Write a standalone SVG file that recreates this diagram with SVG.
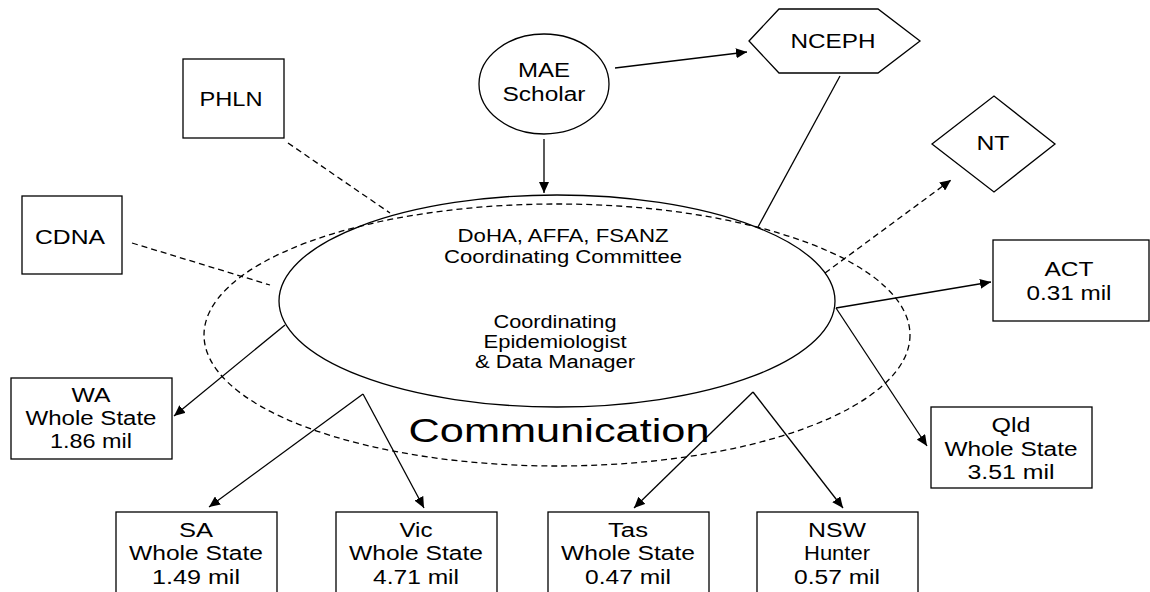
<svg xmlns="http://www.w3.org/2000/svg" width="1150" height="592" viewBox="0 0 1150 592">
<defs>
<marker id="ah" markerUnits="userSpaceOnUse" markerWidth="12" markerHeight="10" refX="11" refY="5" orient="auto">
<path d="M0,0 L11,5 L0,10 Z" fill="#000"/>
</marker>
<style>
.shape{fill:#fff;stroke:#000;stroke-width:1.3}
.ring{fill:none;stroke:#000;stroke-width:1.3;stroke-dasharray:6 4}
.ln{fill:none;stroke:#000;stroke-width:1.3}
.dl{fill:none;stroke:#000;stroke-width:1.3;stroke-dasharray:6 4}
.arr{marker-end:url(#ah)}
text{font-family:"Liberation Sans",Arial,sans-serif;fill:#000;text-anchor:middle}
.t{font-size:20px}
.c{font-size:18px}
.big{font-size:33px}
</style>
</defs>
<rect width="1150" height="592" fill="#fff"/>

<g id="communication-ring">
<ellipse class="ring" cx="557" cy="335" rx="353" ry="131"/>
<text class="big" x="559" y="442" textLength="301" lengthAdjust="spacingAndGlyphs">Communication</text>
</g>

<g id="connectors">
<path class="ln arr" d="M615,68 L747,52"/>
<path class="ln arr" d="M544,139 L544,193"/>
<path class="ln" d="M840,76 L758,227"/>
<path class="dl arr" d="M825,273 L951,180"/>
<path class="ln arr" d="M836,308 L991,282"/>
<path class="ln arr" d="M836,308 L927,446"/>
<path class="ln arr" d="M285,325 L174,416"/>
<path class="ln arr" d="M363,394 L209,507"/>
<path class="ln arr" d="M363,394 L424,508"/>
<path class="ln arr" d="M753,392 L634,508"/>
<path class="ln arr" d="M753,392 L843,508"/>
<path class="dl" d="M288,143 L390,213"/>
<path class="dl" d="M132,243 L270,285"/>
</g>

<g id="center">
<ellipse class="ln" cx="557" cy="301" rx="278" ry="106"/>
<text class="c" x="563" y="242" textLength="211" lengthAdjust="spacingAndGlyphs">DoHA, AFFA, FSANZ</text>
<text class="c" x="563" y="263" textLength="238" lengthAdjust="spacingAndGlyphs">Coordinating Committee</text>
<text class="c" x="555" y="328" textLength="123" lengthAdjust="spacingAndGlyphs">Coordinating</text>
<text class="c" x="555" y="348" textLength="143" lengthAdjust="spacingAndGlyphs">Epidemiologist</text>
<text class="c" x="555" y="368" textLength="160" lengthAdjust="spacingAndGlyphs">&amp; Data Manager</text>
</g>

<g id="mae">
<ellipse class="shape" cx="544" cy="84" rx="65" ry="50"/>
<text class="t" x="544" y="77" textLength="52" lengthAdjust="spacingAndGlyphs">MAE</text>
<text class="t" x="544" y="101" textLength="83" lengthAdjust="spacingAndGlyphs">Scholar</text>
</g>

<g id="nceph">
<polygon class="shape" points="749,41 779,9 878,9 920,41 878,73 779,73"/>
<text class="t" x="833" y="48" textLength="85" lengthAdjust="spacingAndGlyphs">NCEPH</text>
</g>

<g id="nt">
<polygon class="shape" points="932,144 994,96 1055,144 994,192"/>
<text class="t" x="993" y="150" textLength="33" lengthAdjust="spacingAndGlyphs">NT</text>
</g>

<g id="phln">
<rect class="shape" x="183" y="59" width="101" height="79"/>
<text class="t" x="231" y="106" textLength="63" lengthAdjust="spacingAndGlyphs">PHLN</text>
</g>

<g id="cdna">
<rect class="shape" x="22" y="196" width="100" height="78"/>
<text class="t" x="70" y="244" textLength="70" lengthAdjust="spacingAndGlyphs">CDNA</text>
</g>

<g id="wa">
<rect class="shape" x="11" y="378" width="161" height="81"/>
<text class="t" x="91" y="402" textLength="39" lengthAdjust="spacingAndGlyphs">WA</text>
<text class="t" x="91" y="425" textLength="131" lengthAdjust="spacingAndGlyphs">Whole State</text>
<text class="t" x="91" y="448" textLength="82" lengthAdjust="spacingAndGlyphs">1.86 mil</text>
</g>

<g id="act">
<rect class="shape" x="993" y="240" width="156" height="81"/>
<text class="t" x="1069" y="276" textLength="49" lengthAdjust="spacingAndGlyphs">ACT</text>
<text class="t" x="1069" y="300" textLength="85" lengthAdjust="spacingAndGlyphs">0.31 mil</text>
</g>

<g id="qld">
<rect class="shape" x="931" y="407" width="161" height="81"/>
<text class="t" x="1011" y="432" textLength="39" lengthAdjust="spacingAndGlyphs">Qld</text>
<text class="t" x="1011" y="456" textLength="133" lengthAdjust="spacingAndGlyphs">Whole State</text>
<text class="t" x="1011" y="479" textLength="87" lengthAdjust="spacingAndGlyphs">3.51 mil</text>
</g>

<g id="sa">
<rect class="shape" x="116" y="512" width="161" height="82"/>
<text class="t" x="196" y="537" textLength="34" lengthAdjust="spacingAndGlyphs">SA</text>
<text class="t" x="196" y="560" textLength="134" lengthAdjust="spacingAndGlyphs">Whole State</text>
<text class="t" x="196" y="584" textLength="88" lengthAdjust="spacingAndGlyphs">1.49 mil</text>
</g>

<g id="vic">
<rect class="shape" x="336" y="512" width="161" height="82"/>
<text class="t" x="416" y="537" textLength="33" lengthAdjust="spacingAndGlyphs">Vic</text>
<text class="t" x="416" y="560" textLength="134" lengthAdjust="spacingAndGlyphs">Whole State</text>
<text class="t" x="416" y="584" textLength="86" lengthAdjust="spacingAndGlyphs">4.71 mil</text>
</g>

<g id="tas">
<rect class="shape" x="548" y="512" width="161" height="82"/>
<text class="t" x="628" y="537" textLength="40" lengthAdjust="spacingAndGlyphs">Tas</text>
<text class="t" x="628" y="560" textLength="134" lengthAdjust="spacingAndGlyphs">Whole State</text>
<text class="t" x="628" y="584" textLength="86" lengthAdjust="spacingAndGlyphs">0.47 mil</text>
</g>

<g id="nsw">
<rect class="shape" x="757" y="512" width="161" height="82"/>
<text class="t" x="837" y="537" textLength="58" lengthAdjust="spacingAndGlyphs">NSW</text>
<text class="t" x="837" y="560" textLength="66" lengthAdjust="spacingAndGlyphs">Hunter</text>
<text class="t" x="837" y="584" textLength="86" lengthAdjust="spacingAndGlyphs">0.57 mil</text>
</g>
</svg>
